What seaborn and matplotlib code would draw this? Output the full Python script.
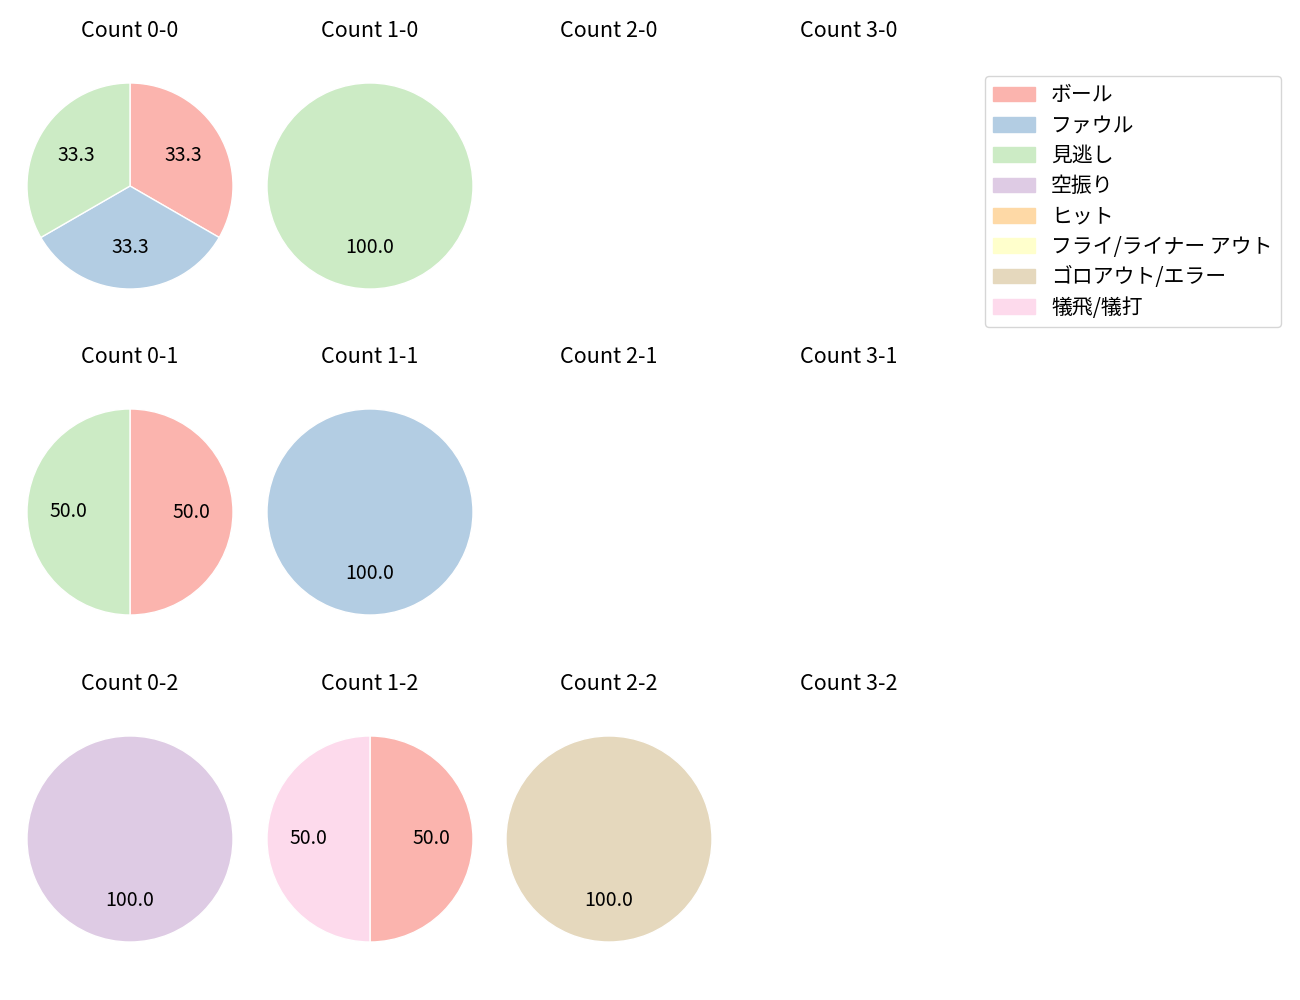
import matplotlib
matplotlib.use("Agg")
import matplotlib.pyplot as plt
import matplotlib.patches as mpatches
import seaborn as sns

sns.set_style("white")
plt.rcParams["font.family"] = ["Noto Sans CJK JP", "DejaVu Sans"]
plt.rcParams["text.color"] = "black"

# ─── Data ─────────────────────────────────────────────────────────────────────
categories = ["ボール", "ファウル", "見逃し", "空振り", "ヒット",
              "フライ/ライナー アウト", "ゴロアウト/エラー", "犠飛/犠打"]
balls = [0, 1, 2, 3]
strikes = [0, 1, 2]

# counts per category for each ball-strike count
count_values = {
    "0-0": [1, 1, 1, 0, 0, 0, 0, 0],
    "1-0": [0, 0, 1, 0, 0, 0, 0, 0],
    "2-0": [0, 0, 0, 0, 0, 0, 0, 0],
    "3-0": [0, 0, 0, 0, 0, 0, 0, 0],
    "0-1": [1, 0, 1, 0, 0, 0, 0, 0],
    "1-1": [0, 1, 0, 0, 0, 0, 0, 0],
    "2-1": [0, 0, 0, 0, 0, 0, 0, 0],
    "3-1": [0, 0, 0, 0, 0, 0, 0, 0],
    "0-2": [0, 0, 0, 1, 0, 0, 0, 0],
    "1-2": [1, 0, 0, 0, 0, 0, 0, 1],
    "2-2": [0, 0, 0, 0, 0, 0, 1, 0],
    "3-2": [0, 0, 0, 0, 0, 0, 0, 0],
}

colors = sns.color_palette("Pastel1", len(categories))

W, H = 1300, 1000
fig = plt.figure(figsize=(13, 10), dpi=100)

radius_px = 103
size_px = 2.5 * radius_px
x_centers = [130, 370, 609, 849]
y_centers = [186, 512, 839]

for r, s in enumerate(strikes):
    for c, b in enumerate(balls):
        key = f"{b}-{s}"
        cx, cy = x_centers[c], y_centers[r]
        ax = fig.add_axes([(cx - size_px / 2) / W, 1 - (cy + size_px / 2) / H,
                           size_px / W, size_px / H])
        vals = count_values[key]
        idx = [i for i, v in enumerate(vals) if v > 0]
        if idx:
            ax.pie([vals[i] for i in idx], colors=[colors[i] for i in idx],
                   autopct="%.1f", startangle=90, counterclock=False,
                   textprops={"fontsize": 14})
        else:
            ax.axis("off")
        ax.set_title(f"Count {key}", fontsize=15.5, pad=14.5)

handles = [mpatches.Patch(color=colors[i], label=categories[i]) for i in range(len(categories))]
fig.legend(handles=handles, loc="upper right", bbox_to_anchor=(1281 / W, 1 - 76 / H),
           borderaxespad=0, fontsize=15, labelspacing=0.4)

plt.savefig("out.png", dpi=100)
